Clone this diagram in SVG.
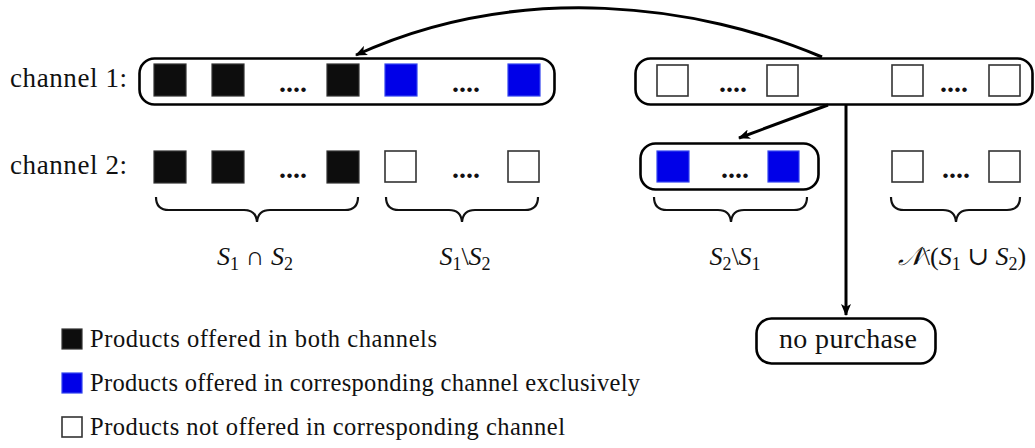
<svg xmlns="http://www.w3.org/2000/svg" width="1035" height="448" viewBox="0 0 1035 448">
<style>
.t{font-family:"Liberation Serif","DejaVu Serif",serif;font-size:27px;fill:#111}
.np{font-family:"Liberation Serif","DejaVu Serif",serif;font-size:28px;fill:#111}
.lg{font-family:"Liberation Serif","DejaVu Serif",serif;font-size:24.5px;fill:#111}
.m{font-family:"Liberation Serif","DejaVu Serif",serif;font-size:26px;fill:#111}
.i{font-style:italic}
.sub{font-size:18px}
.dots{font-family:"Liberation Serif",serif;font-size:28px;font-weight:bold;fill:#111}
.box{fill:none;stroke:#000;stroke-width:2.6}
.bk{fill:#0d0d0d;stroke:#333;stroke-width:1.2}
.bl{fill:#0000e8;stroke:#3344ee;stroke-width:1.2}
.wh{fill:#fff;stroke:#333;stroke-width:1.6}
.br{fill:none;stroke:#111;stroke-width:2.2}
.cn{fill:none;stroke:#000;stroke-width:3}
</style>
<defs>
<marker id="ah" viewBox="0 0 12 10" refX="11" refY="5" markerWidth="12" markerHeight="10" markerUnits="userSpaceOnUse" orient="auto">
<path d="M0,0 L12,5 L0,10 L3,5 Z" fill="#000"/>
</marker>
</defs>

<g id="labels">
<text class="t" x="10" y="87" textLength="117">channel 1:</text>
<text class="t" x="10" y="174" textLength="117">channel 2:</text>
</g>

<g id="channel1-offered">
<rect class="box" x="139.5" y="58.5" width="415" height="46" rx="15"/>
<rect class="bk" x="154" y="64" width="32" height="32"/>
<rect class="bk" x="212" y="64" width="32" height="32"/>
<text class="dots" x="279" y="92">....</text>
<rect class="bk" x="327" y="64" width="32" height="32"/>
<rect class="bl" x="385" y="64" width="32" height="32"/>
<text class="dots" x="452" y="92">....</text>
<rect class="bl" x="508" y="64" width="32" height="32"/>
</g>

<g id="channel1-notoffered">
<rect class="box" x="635.5" y="58.5" width="397" height="46" rx="15"/>
<rect class="wh" x="657" y="65" width="31" height="31"/>
<text class="dots" x="719" y="92">....</text>
<rect class="wh" x="767" y="65" width="31" height="31"/>
<rect class="wh" x="892" y="65" width="31" height="31"/>
<text class="dots" x="940" y="92">....</text>
<rect class="wh" x="989" y="65" width="31" height="31"/>
</g>

<g id="channel2-both">
<rect class="bk" x="154" y="151" width="32" height="32"/>
<rect class="bk" x="212" y="151" width="32" height="32"/>
<text class="dots" x="279" y="178">....</text>
<rect class="bk" x="327" y="151" width="32" height="32"/>
<rect class="wh" x="385" y="151" width="31" height="31"/>
<text class="dots" x="452" y="178">....</text>
<rect class="wh" x="508" y="151" width="31" height="31"/>
</g>

<g id="channel2-exclusive">
<rect class="box" x="640.5" y="143.5" width="178" height="46" rx="15"/>
<rect class="bl" x="657" y="151" width="32" height="31"/>
<text class="dots" x="721" y="178">....</text>
<rect class="bl" x="768" y="151" width="31" height="31"/>
</g>

<g id="channel2-none">
<rect class="wh" x="892" y="151" width="31" height="31"/>
<text class="dots" x="942" y="178">....</text>
<rect class="wh" x="989" y="151" width="31" height="31"/>
</g>

<g id="braces">
<path class="br" d="M156,197 Q156,210 169,210 L244,210 Q256,210 257,222 Q258,210 270,210 L345,210 Q358,210 358,197"/>
<path class="br" d="M386,197 Q386,210 399,210 L449,210 Q461,210 462,222 Q463,210 475,210 L525,210 Q538,210 538,197"/>
<path class="br" d="M654,197 Q654,210 667,210 L718,210 Q730,210 731,222 Q732,210 744,210 L794,210 Q807,210 807,197"/>
<path class="br" d="M891,197 Q891,210 904,210 L943,210 Q955,210 956,222 Q957,210 969,210 L1007,210 Q1020,210 1020,197"/>
</g>

<g id="set-labels">
<text class="m" x="255" y="265" text-anchor="middle"><tspan class="i">S</tspan><tspan class="sub" dy="5">1</tspan><tspan dy="-5"> ∩ </tspan><tspan class="i">S</tspan><tspan class="sub" dy="5">2</tspan></text>
<text class="m" x="465" y="265" text-anchor="middle"><tspan class="i">S</tspan><tspan class="sub" dy="5">1</tspan><tspan dy="-5">\</tspan><tspan class="i">S</tspan><tspan class="sub" dy="5">2</tspan></text>
<text class="m" x="735" y="265" text-anchor="middle"><tspan class="i">S</tspan><tspan class="sub" dy="5">2</tspan><tspan dy="-5">\</tspan><tspan class="i">S</tspan><tspan class="sub" dy="5">1</tspan></text>
<text class="m" x="962" y="265" text-anchor="middle"><tspan class="i">𝒩</tspan><tspan>\(</tspan><tspan class="i">S</tspan><tspan class="sub" dy="5">1</tspan><tspan dy="-5"> ∪ </tspan><tspan class="i">S</tspan><tspan class="sub" dy="5">2</tspan><tspan dy="-5">)</tspan></text>
</g>

<g id="no-purchase">
<rect class="box" x="756.5" y="318.5" width="179" height="45" rx="15"/>
<text class="np" x="779" y="348" textLength="138">no purchase</text>
</g>

<g id="connectors">
<path class="cn" d="M822,57 C700,5 520,-20 356,55" marker-end="url(#ah)"/>
<path class="cn" d="M828,105 L739,138" marker-end="url(#ah)"/>
<path class="cn" d="M846,105 L846,315" marker-end="url(#ah)"/>
</g>

<g id="legend">
<rect class="bk" x="62" y="329" width="20" height="20"/>
<text class="lg" x="90" y="347" textLength="347">Products offered in both channels</text>
<rect class="bl" x="62" y="373" width="20" height="20"/>
<text class="lg" x="90" y="391" textLength="550">Products offered in corresponding channel exclusively</text>
<rect class="wh" x="62" y="417" width="20" height="20"/>
<text class="lg" x="90" y="435" textLength="475">Products not offered in corresponding channel</text>
</g>
</svg>
